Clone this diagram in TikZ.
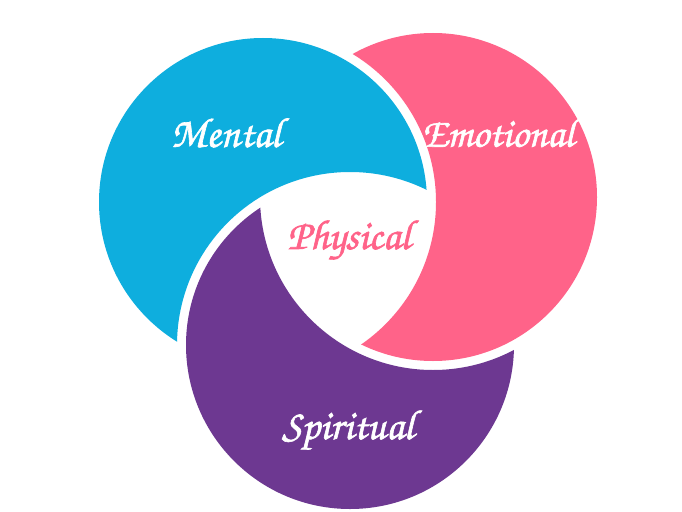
\documentclass[tikz,border=0pt]{standalone}
\usepackage{fontspec}
\newfontfamily\scriptf[FakeBold=1.5]{texgyrechorus-mediumitalic.otf}
\definecolor{cblue}{RGB}{14,174,222}
\definecolor{cpink}{RGB}{255,99,137}
\definecolor{cpurple}{RGB}{109,56,145}
\tikzset{
  lbl/.style={font=\scriptf\fontsize{42}{42}\selectfont, text=white, inner sep=0pt},
}
\def\R{164}
\def\G{173}
\begin{document}
\begin{tikzpicture}[x=1pt,y=-1pt]
\useasboundingbox (0,0) rectangle (682,511);
\fill[white] (0,0) rectangle (682,511);
\coordinate (B) at (263,202);
\coordinate (K) at (433,197);
\coordinate (P) at (350,345);
% blue = blue circle minus (purple circle + gap)
\begin{scope}[even odd rule]
  \clip (-20,-20) rectangle (702,531) (P) circle (\G);
  \fill[cblue] (B) circle (\R);
\end{scope}
% pink = pink circle minus (blue circle + gap)
\begin{scope}[even odd rule]
  \clip (-20,-20) rectangle (702,531) (B) circle (\G);
  \fill[cpink] (K) circle (\R);
\end{scope}
% purple = purple circle minus (pink circle + gap)
\begin{scope}[even odd rule]
  \clip (-20,-20) rectangle (702,531) (K) circle (\G);
  \fill[cpurple] (P) circle (\R);
\end{scope}
\node[lbl] (mental) at (226,133) {Mental};
\node[lbl, font=\scriptf\fontsize{41}{41}\selectfont] (emotional) at (498,133) {Emotional};
\node[lbl, text=cpink] (physical) at (349,240) {Physical};
\node[lbl] (spiritual) at (348,430) {Spiritual};
\end{tikzpicture}
\end{document}
